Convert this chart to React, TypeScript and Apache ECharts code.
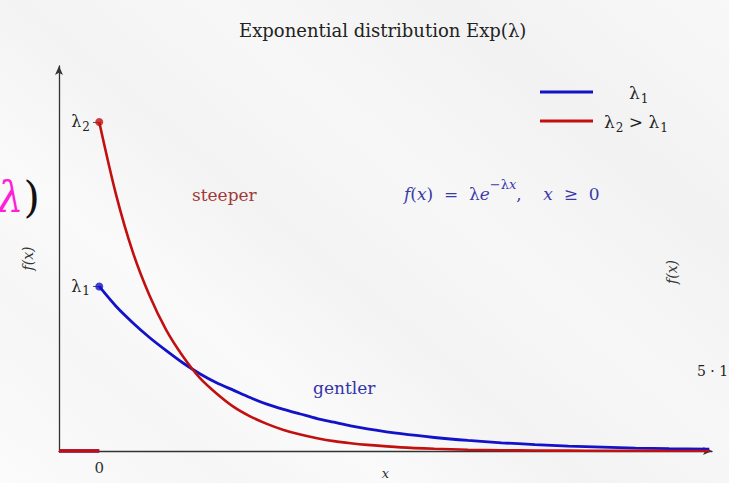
import React, { useEffect, useRef } from "react";
import * as echarts from "echarts";

// sample points (x in units of 1/lambda1)
const xs = [0, 0.125, 0.25, 0.375, 0.5, 0.625, 0.75, 0.875, 1, 1.125, 1.25, 1.375, 1.5, 1.625, 1.75, 1.875, 2, 2.25, 2.5, 2.75, 3, 3.25, 3.5, 3.75, 4, 4.25, 4.55];
const lambda1Vals = [1, 0.88, 0.78, 0.69, 0.61, 0.535, 0.47, 0.415, 0.37, 0.325, 0.285, 0.253, 0.225, 0.197, 0.175, 0.153, 0.135, 0.105, 0.082, 0.064, 0.05, 0.039, 0.03, 0.024, 0.018, 0.014, 0.011];
const lambda2Vals = [2, 1.56, 1.21, 0.945, 0.735, 0.575, 0.445, 0.35, 0.27, 0.211, 0.165, 0.128, 0.1, 0.078, 0.06, 0.047, 0.037, 0.022, 0.0135, 0.008, 0.005, 0.003, 0.002, 0.001, 0.0007, 0.0004, 0.0002];
const negX = [-0.3, 0];
const negVals = [0, 0];
const yTickValues = [1, 2];
const yTickLabels = ["{l|λ}{s|1}", "{l|λ}{s|2}"];
const xTickValues = [0];
const legendNames = ["λ₁", "λ₂ > λ₁"];

const BLUE = "#1212c8";
const RED = "#c21010";
const SERIF = "'DejaVu Serif', 'Liberation Serif', serif";

const subRich = (size: number, fill: string) => ({
  l: { fontFamily: SERIF, fontSize: size, fill, color: fill, lineHeight: size + 6, verticalAlign: "middle" },
  s: { fontFamily: SERIF, fontSize: Math.round(size * 0.72), fill, color: fill, lineHeight: Math.round(size * 0.72), verticalAlign: "bottom", padding: [0, 0, 0, 1] },
  n: { fontFamily: SERIF, fontSize: size, fill, color: fill, lineHeight: size + 6, verticalAlign: "middle" },
});

export default function App() {
  const ref = useRef<HTMLDivElement>(null);
  useEffect(() => {
    if (!ref.current) return;
    const chart = echarts.init(ref.current, undefined, { renderer: "svg", width: 729, height: 483 });
    const pair = (a: number[], b: number[]) => a.map((v, i) => [v, b[i]]);
    chart.setOption({
      animation: false,
      title: {
        text: "Exponential distribution Exp(λ)",
        left: 234,
        top: 16,
        textStyle: { fontFamily: SERIF, fontSize: 18, fontWeight: "normal", color: "#222" },
      },
      grid: { left: 59, right: 17, top: 66, bottom: 32, containLabel: false, outerBoundsMode: "none" },
      xAxis: {
        type: "value",
        min: -0.3,
        max: 4.57,
        name: "x",
        nameLocation: "middle",
        nameGap: 16,
        nameMoveOverlap: false,
        nameTextStyle: { fontFamily: SERIF, fontStyle: "italic", fontSize: 13, color: "#333" },
        axisLine: { show: true, onZero: false, symbol: ["none", "arrow"], symbolSize: [6, 9], lineStyle: { color: "#333", width: 1.3 } },
        axisTick: { show: false },
        splitLine: { show: false },
        axisLabel: {
          customValues: xTickValues,
          margin: 9,
          fontFamily: SERIF,
          fontSize: 15,
          color: "#333",
        },
      },
      yAxis: [
        {
          type: "value",
          min: 0,
          max: 2.34,
          name: "f(x)",
          nameLocation: "middle",
          nameRotate: 90,
          nameGap: 24,
          nameMoveOverlap: false,
          nameTextStyle: { fontFamily: SERIF, fontStyle: "italic", fontSize: 14, color: "#333" },
          axisLine: { show: true, onZero: false, symbol: ["none", "arrow"], symbolSize: [6, 9], lineStyle: { color: "#333", width: 1.3 } },
          axisTick: { show: false },
          axisLabel: { show: false },
          splitLine: { show: false },
        },
        {
          type: "value",
          min: 0,
          max: 2.34,
          position: "left",
          offset: -41,
          axisLine: { show: false, onZero: false },
          splitLine: { show: false },
          axisTick: { show: true, customValues: yTickValues, length: 7, lineStyle: { color: "#555", width: 1 } },
          axisLabel: {
            customValues: yTickValues,
            margin: 10,
            formatter: (v: number) => yTickLabels[yTickValues.indexOf(v)] ?? "",
            rich: subRich(16, "#222"),
          },
        },
      ],
      series: [
        {
          type: "line",
          data: pair(negX, negVals),
          showSymbol: false,
          lineStyle: { color: BLUE, width: 3.5 },
          z: 3,
        },
        {
          type: "line",
          data: pair(negX, negVals),
          showSymbol: false,
          lineStyle: { color: RED, width: 3.5 },
          z: 4,
        },
        {
          name: legendNames[0],
          type: "line",
          data: pair(xs, lambda1Vals),
          smooth: 0.3,
          showSymbol: false,
          lineStyle: { color: BLUE, width: 2.8 },
          z: 3,
        },
        {
          name: legendNames[1],
          type: "line",
          data: pair(xs, lambda2Vals),
          smooth: 0.3,
          showSymbol: false,
          lineStyle: { color: RED, width: 2.6 },
          z: 4,
        },
        {
          type: "scatter",
          data: [
            { value: [xs[0], lambda1Vals[0]], itemStyle: { color: BLUE } },
            { value: [xs[0], lambda2Vals[0]], itemStyle: { color: RED } },
          ],
          symbolSize: 8,
          z: 5,
        },
      ],
      graphic: [
        // legend
        { type: "line", shape: { x1: 540, y1: 92, x2: 593, y2: 92 }, style: { stroke: BLUE, lineWidth: 3 } },
        { type: "line", shape: { x1: 540, y1: 121, x2: 593, y2: 121 }, style: { stroke: RED, lineWidth: 3 } },
        {
          type: "text",
          x: 629,
          y: 93,
          style: {
            text: "{l|λ}{s|1}",
            textVerticalAlign: "middle",
            rich: subRich(17, "#222"),
          },
        },
        {
          type: "text",
          x: 604,
          y: 122,
          style: {
            text: "{l|λ}{s|2}{n| > λ}{s|1}",
            textVerticalAlign: "middle",
            rich: subRich(17, "#222"),
          },
        },
        // annotations
        {
          type: "text",
          x: 192,
          y: 195,
          style: { text: "steeper", fontFamily: SERIF, fontSize: 17, fill: "#a03a3a", textVerticalAlign: "middle" },
        },
        {
          type: "text",
          x: 313,
          y: 388,
          style: { text: "gentler", fontFamily: SERIF, fontSize: 17, fill: "#3434a8", textVerticalAlign: "middle" },
        },
        {
          type: "text",
          x: 404,
          y: 190,
          style: {
            text: "{i|f}{n|(}{i|x}{n|)  =  λ}{i|e}{sup|−λ}{si|x}{n|,    }{i|x}{n|  ≥  0}",
            fill: "#3a3aa8",
            textVerticalAlign: "middle",
            rich: {
              n: { fontFamily: SERIF, fontSize: 17, fill: "#3a3aa8", lineHeight: 24, verticalAlign: "bottom" },
              i: { fontFamily: SERIF, fontSize: 17, fontStyle: "italic", fill: "#3a3aa8", lineHeight: 24, verticalAlign: "bottom" },
              sup: { fontFamily: SERIF, fontSize: 13, fill: "#3a3aa8", lineHeight: 13, verticalAlign: "top" },
              si: { fontFamily: SERIF, fontSize: 13, fontStyle: "italic", fill: "#3a3aa8", lineHeight: 13, verticalAlign: "top" },
            },
          },
        },
        // slide fragments around the figure
        {
          type: "text",
          x: -3,
          y: 197,
          style: {
            text: "{m|λ}{k|)}",
            textVerticalAlign: "middle",
            rich: {
              m: { fontFamily: "'DejaVu Serif', serif", fontStyle: "italic", fontSize: 42, fill: "#ff1fd6" },
              k: { fontFamily: "'DejaVu Serif', serif", fontSize: 42, fill: "#111" },
            },
          },
        },
        {
          type: "text",
          x: 672,
          y: 272,
          rotation: Math.PI / 2,
          style: {
            text: "f(x)",
            fontFamily: SERIF,
            fontStyle: "italic",
            fontSize: 14,
            fill: "#333",
            textAlign: "center",
            textVerticalAlign: "middle",
          },
        },
        {
          type: "text",
          x: 697,
          y: 371,
          style: { text: "5 · 1", fontFamily: SERIF, fontSize: 14, fill: "#222", textVerticalAlign: "middle" },
        },
      ],
    });
    return () => chart.dispose();
  }, []);
  return (
    <div
      ref={ref}
      style={{
        position: "fixed",
        left: 0,
        top: 0,
        width: 729,
        height: 483,
        background:
          "linear-gradient(40deg, #fbfbfb 0%, #f6f6f6 18%, #fafafa 30%, #f3f3f3 45%, #f7f7f7 60%, #f2f2f2 78%, #f8f8f8 100%)",
      }}
    />
  );
}
